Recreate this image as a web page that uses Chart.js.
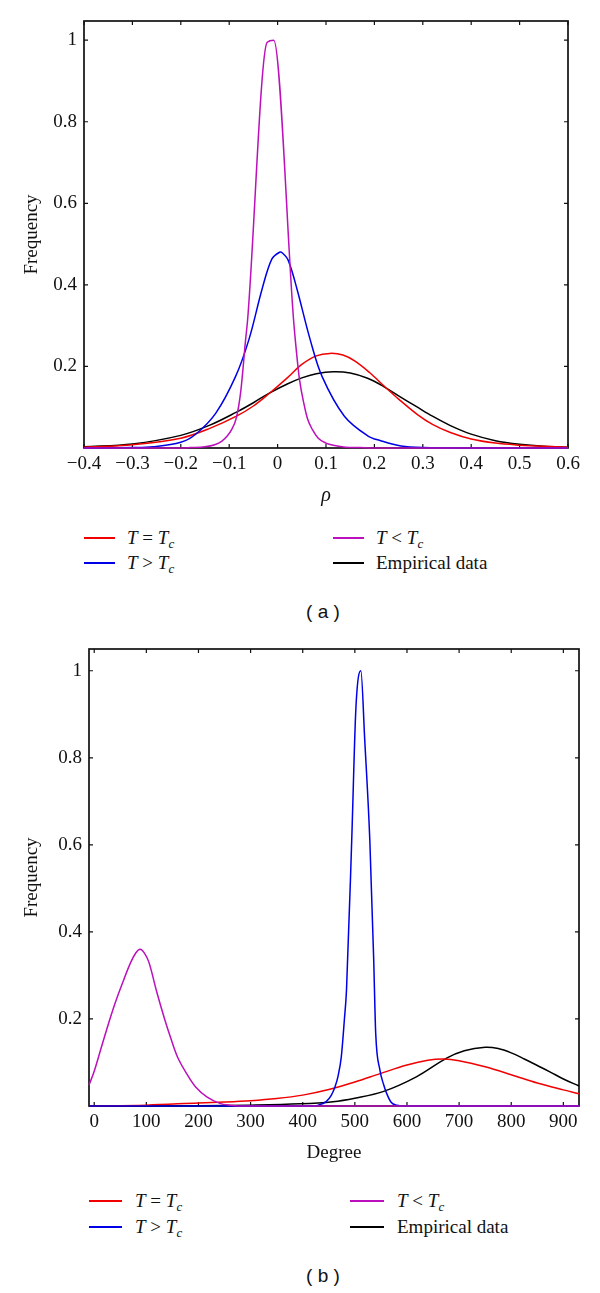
<!DOCTYPE html>
<html>
<head>
<meta charset="utf-8">
<script src="https://cdn.jsdelivr.net/npm/chart.js@4.4.0/dist/chart.umd.min.js"></script>
<style>
  html, body { margin:0; padding:0; background:#fff; }
  body { width:600px; height:1293px; position:relative; overflow:hidden; }
  canvas { position:absolute; left:0; }
  #chartA { top:0; }
  #chartB { top:630px; }
  .row { position:absolute; height:24px; font-family:"Liberation Serif", serif; font-size:19px; color:#111; white-space:nowrap; }
  .row .sw { position:absolute; height:1.6px; top:11px; }
  .row .tx { position:absolute; top:0; line-height:24px; }
  .row sub { font-size:13px; vertical-align:-4px; line-height:0; }
  .cap { position:absolute; font-family:"Liberation Sans", Arial, sans-serif; font-size:19px; color:#111; width:60px; text-align:center; }
</style>
</head>
<body>
<canvas id="chartA" width="600" height="510"></canvas>
<canvas id="chartB" width="600" height="540"></canvas>

<!-- 凡例 (a) -->
<div class="row" style="top:526px;left:0;width:600px;">
  <div class="sw" style="left:84px;width:31px;background:#f00000;"></div>
  <div class="tx" style="left:127px;"><i>T</i> = <i>T</i><sub><i>c</i></sub></div>
  <div class="sw" style="left:333px;width:31px;background:#bb10bb;"></div>
  <div class="tx" style="left:376px;"><i>T</i> &lt; <i>T</i><sub><i>c</i></sub></div>
</div>
<div class="row" style="top:551px;left:0;width:600px;">
  <div class="sw" style="left:84px;width:31px;background:#0000e6;"></div>
  <div class="tx" style="left:127px;"><i>T</i> &gt; <i>T</i><sub><i>c</i></sub></div>
  <div class="sw" style="left:333px;width:31px;background:#000;"></div>
  <div class="tx" style="left:376px;">Empirical data</div>
</div>
<div class="cap" style="left:293px;top:601px;">( a )</div>

<!-- 凡例 (b) -->
<div class="row" style="top:1189px;left:0;width:600px;">
  <div class="sw" style="left:89px;width:33px;background:#f00000;"></div>
  <div class="tx" style="left:135px;"><i>T</i> = <i>T</i><sub><i>c</i></sub></div>
  <div class="sw" style="left:350px;width:34px;background:#bb10bb;"></div>
  <div class="tx" style="left:397px;"><i>T</i> &lt; <i>T</i><sub><i>c</i></sub></div>
</div>
<div class="row" style="top:1215px;left:0;width:600px;">
  <div class="sw" style="left:89px;width:33px;background:#0000e6;"></div>
  <div class="tx" style="left:135px;"><i>T</i> &gt; <i>T</i><sub><i>c</i></sub></div>
  <div class="sw" style="left:350px;width:34px;background:#000;"></div>
  <div class="tx" style="left:397px;">Empirical data</div>
</div>
<div class="cap" style="left:293px;top:1265px;">( b )</div>

<script>
// ===== 色 =====
const RED = '#f00000', BLUE = '#0000e6', MAG = '#bb10bb', BLK = '#000000';

// ===== (a) ρ 分布 =====
const aTicksX = [-0.4, -0.3, -0.2, -0.1, 0, 0.1, 0.2, 0.3, 0.4, 0.5, 0.6];
const aTickLabelsX = ['\u22120.4', '\u22120.3', '\u22120.2', '\u22120.1', '0', '0.1', '0.2', '0.3', '0.4', '0.5', '0.6'];
const aTicksY = [0.2, 0.4, 0.6, 0.8, 1];
const aTickLabelsY = ['0.2', '0.4', '0.6', '0.8', '1'];

const aEqX = [-0.4, -0.3, -0.2, -0.14, -0.085, -0.05, -0.018, 0.02, 0.05, 0.08, 0.108, 0.135, 0.16, 0.19, 0.22, 0.25, 0.289, 0.32, 0.357, 0.4, 0.45, 0.5, 0.55, 0.6];
const aEqY = [0.002, 0.008, 0.024, 0.048, 0.078, 0.103, 0.133, 0.172, 0.205, 0.226, 0.232, 0.228, 0.213, 0.185, 0.152, 0.12, 0.082, 0.058, 0.038, 0.022, 0.012, 0.007, 0.004, 0.002];

const aGtX = [-0.4, -0.3, -0.257, -0.2, -0.17, -0.128, -0.087, -0.059, -0.032, -0.012, 0.004, 0.01, 0.022, 0.04, 0.067, 0.092, 0.138, 0.186, 0.213, 0.255, 0.3, 0.4, 0.6];
const aGtY = [0, 0.001, 0.003, 0.014, 0.033, 0.085, 0.175, 0.267, 0.39, 0.463, 0.48, 0.478, 0.46, 0.39, 0.267, 0.175, 0.078, 0.03, 0.018, 0.005, 0.001, 0, 0];

const aLtX = [-0.4, -0.2, -0.18, -0.15, -0.13, -0.115, -0.105, -0.095, -0.085, -0.076, -0.066, -0.062, -0.0215, -0.008, 0.033, 0.037, 0.045, 0.055, 0.062, 0.072, 0.084, 0.1, 0.118, 0.14, 0.17, 0.2, 0.6];
const aLtY = [0, 0, 0.001, 0.003, 0.008, 0.017, 0.028, 0.045, 0.075, 0.14, 0.267, 0.314, 0.995, 1.0, 0.314, 0.26, 0.17, 0.105, 0.071, 0.045, 0.024, 0.012, 0.006, 0.002, 0.001, 0, 0];

const aEmpX = [-0.4, -0.3, -0.2, -0.14, -0.085, -0.05, -0.018, 0.02, 0.05, 0.08, 0.115, 0.15, 0.186, 0.22, 0.25, 0.289, 0.32, 0.357, 0.4, 0.45, 0.5, 0.55, 0.6];
const aEmpY = [0.003, 0.01, 0.031, 0.056, 0.088, 0.111, 0.134, 0.157, 0.172, 0.182, 0.187, 0.184, 0.171, 0.15, 0.128, 0.1, 0.078, 0.055, 0.034, 0.018, 0.009, 0.004, 0.002];

// ===== (b) Degree 分布 =====
const bTicksX = [0, 100, 200, 300, 400, 500, 600, 700, 800, 900];
const bTickLabelsX = ['0', '100', '200', '300', '400', '500', '600', '700', '800', '900'];
const bTicksY = [0.2, 0.4, 0.6, 0.8, 1];
const bTickLabelsY = ['0.2', '0.4', '0.6', '0.8', '1'];

const bEqX = [-10, 100, 200, 250, 300, 350, 400, 450, 500, 550, 600, 640, 670, 700, 750, 800, 850, 900, 930];
const bEqY = [0, 0.002, 0.007, 0.009, 0.012, 0.017, 0.025, 0.038, 0.055, 0.075, 0.094, 0.105, 0.108, 0.104, 0.09, 0.072, 0.053, 0.037, 0.028];

const bGtX = [-10, 420, 430, 445, 455, 462, 468, 474, 480, 484, 494, 502, 511.5, 519, 528.7, 536, 540, 548, 555, 561, 570, 580, 600, 930];
const bGtY = [0, 0, 0.002, 0.01, 0.025, 0.044, 0.07, 0.113, 0.2, 0.267, 0.611, 0.914, 1.0, 0.84, 0.611, 0.343, 0.167, 0.083, 0.05, 0.029, 0.008, 0.002, 0, 0];

const bLtX = [-10, 0, 12, 25, 40, 55, 70, 80, 88, 96, 105, 120, 135, 146, 160, 177, 195, 216, 241, 260, 290, 930];
const bLtY = [0.048, 0.08, 0.128, 0.18, 0.236, 0.285, 0.33, 0.352, 0.36, 0.352, 0.33, 0.262, 0.2, 0.159, 0.112, 0.075, 0.043, 0.021, 0.006, 0.002, 0, 0];

const bEmpX = [-10, 200, 300, 395, 458, 500, 554, 618, 676, 710, 750, 775, 800, 825, 850, 875, 900, 930];
const bEmpY = [0, 0.0005, 0.002, 0.005, 0.01, 0.018, 0.033, 0.067, 0.11, 0.127, 0.135, 0.132, 0.122, 0.108, 0.093, 0.078, 0.062, 0.046];

// ===== ユーティリティ =====
const SERIF = '"Liberation Serif", "DejaVu Serif", serif';
Chart.defaults.font.family = SERIF;
Chart.defaults.font.size = 19;
Chart.defaults.color = '#111';

function pts(xs, ys){ return xs.map((x, i) => ({ x, y: ys[i] })); }
// smooth=true: ベジェ曲線 / false: 単調補間（尖ったピーク用）
function line(label, xs, ys, color, smooth){
  const ds = { label, data: pts(xs, ys), borderColor: color, borderWidth: 1.5, pointRadius: 0,
               fill: false, clip: 3 };
  if (smooth) ds.tension = 0.35; else ds.cubicInterpolationMode = 'monotone';
  return ds;
}

// 枠と内向きの目盛り
const framePlugin = {
  id: 'frame',
  beforeDatasetsDraw(chart){
    const { ctx, chartArea: a, scales: { x, y } } = chart;
    ctx.save();
    ctx.strokeStyle = '#111';
    ctx.lineWidth = 1.7;
    ctx.strokeRect(a.left, a.top, a.right - a.left, a.bottom - a.top);
    ctx.lineWidth = 1.2;
    ctx.beginPath();
    for (const t of x.ticks) {
      const px = x.getPixelForValue(t.value);
      ctx.moveTo(px, a.bottom); ctx.lineTo(px, a.bottom - 4);
      ctx.moveTo(px, a.top); ctx.lineTo(px, a.top + 4);
    }
    for (const t of y.ticks) {
      const py = y.getPixelForValue(t.value);
      ctx.moveTo(a.left, py); ctx.lineTo(a.left + 4, py);
      ctx.moveTo(a.right, py); ctx.lineTo(a.right - 4, py);
    }
    ctx.stroke();
    ctx.restore();
  }
};

const tickFont = { family: SERIF, size: 19 };
const titleFont = { family: SERIF, size: 19 };

function makeChart(id, cfg){
  return new Chart(document.getElementById(id), {
    type: 'line',
    data: { datasets: cfg.datasets },
    plugins: [framePlugin],
    options: {
      responsive: false,
      animation: false,
      layout: { padding: cfg.padding },
      plugins: { legend: { display: false }, tooltip: { enabled: false } },
      scales: {
        x: {
          type: 'linear', min: cfg.xMin, max: cfg.xMax,
          grid: { display: false, drawTicks: false },
          border: { display: false },
          afterBuildTicks: s => { s.ticks = cfg.ticksX.map(v => ({ value: v })); },
          afterFit: s => { s.height = cfg.xHeight; },
          ticks: { font: tickFont, color: '#111', padding: 5, maxRotation: 0, autoSkip: false,
                   callback: (v, i) => cfg.labelsX[i] },
          title: { display: true, text: cfg.xTitle, font: cfg.xTitleFont, color: '#111', padding: { top: 0, bottom: cfg.xTitlePad } }
        },
        y: {
          type: 'linear', min: 0, max: cfg.yMax,
          grid: { display: false, drawTicks: false },
          border: { display: false },
          afterBuildTicks: s => { s.ticks = cfg.ticksY.map(v => ({ value: v })); },
          afterFit: s => { s.width = cfg.yWidth; },
          ticks: { font: tickFont, color: '#111', padding: 7, callback: (v, i) => cfg.labelsY[i] },
          title: { display: true, text: 'Frequency', font: titleFont, color: '#111', padding: { top: 21, bottom: 0 } }
        }
      }
    }
  });
}

makeChart('chartA', {
  datasets: [
    line('T < Tc', aLtX, aLtY, MAG, false),
    line('T > Tc', aGtX, aGtY, BLUE, true),
    line('T = Tc', aEqX, aEqY, RED, true),
    line('Empirical data', aEmpX, aEmpY, BLK, true)
  ],
  padding: { top: 21, right: 32, left: 0, bottom: 0 },
  xMin: -0.4, xMax: 0.6, yMax: 1.047,
  ticksX: aTicksX, labelsX: aTickLabelsX, ticksY: aTicksY, labelsY: aTickLabelsY,
  xHeight: 62, yWidth: 84,
  xTitle: '\u03C1', xTitleFont: { family: SERIF, size: 20, style: 'italic' }, xTitlePad: 2
});

makeChart('chartB', {
  datasets: [
    line('T < Tc', bLtX, bLtY, MAG, true),
    line('T > Tc', bGtX, bGtY, BLUE, false),
    line('T = Tc', bEqX, bEqY, RED, true),
    line('Empirical data', bEmpX, bEmpY, BLK, true)
  ],
  padding: { top: 19, right: 21, left: 0, bottom: 0 },
  xMin: -10, xMax: 930, yMax: 1.05,
  ticksX: bTicksX, labelsX: bTickLabelsX, ticksY: bTicksY, labelsY: bTickLabelsY,
  xHeight: 64, yWidth: 89,
  xTitle: 'Degree', xTitleFont: titleFont, xTitlePad: 6
});
</script>
</body>
</html>
